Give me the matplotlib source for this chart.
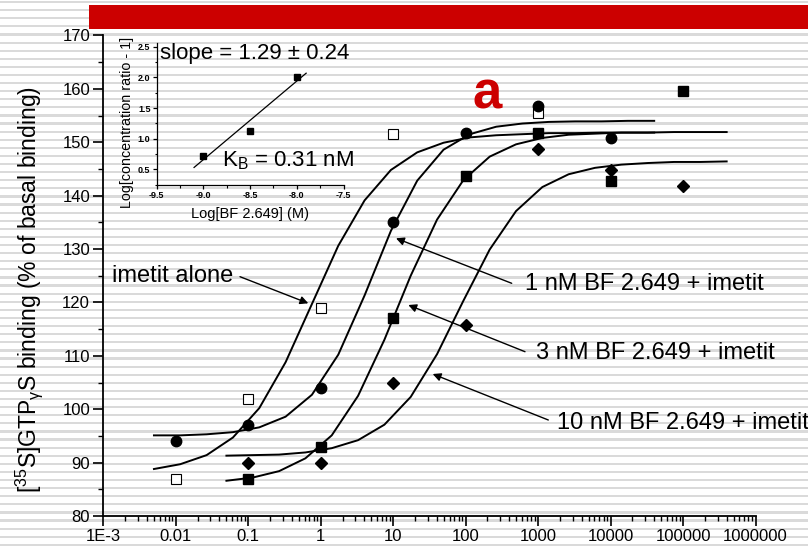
import matplotlib
matplotlib.use('Agg')
import matplotlib.pyplot as plt
from matplotlib.patches import Rectangle
from matplotlib.ticker import LogLocator, MultipleLocator, NullFormatter

plt.rcParams['font.family'] = ['Liberation Sans', 'DejaVu Sans']
plt.rcParams['mathtext.fontset'] = 'custom'
plt.rcParams['mathtext.rm'] = 'Liberation Sans'
plt.rcParams['mathtext.it'] = 'Liberation Sans:italic'
plt.rcParams['mathtext.bf'] = 'Liberation Sans:bold'

# measured points, agonist conc (nM) vs % of basal binding
imetit_x = [0.01, 0.1, 1, 10, 1000]
imetit_y = [87, 102, 119, 151.5, 155.5]
bf1_x = [0.01, 0.1, 1, 10, 100, 1000, 10000]
bf1_y = [94, 97, 104, 135, 151.7, 156.7, 150.8]
bf3_x = [0.1, 1, 10, 100, 1000, 10000, 100000]
bf3_y = [87, 93, 117, 143.6, 151.8, 142.7, 159.6]
bf10_x = [0.1, 1, 10, 100, 1000, 10000, 100000]
bf10_y = [90, 90, 105, 115.8, 148.7, 144.8, 141.8]

# fitted curves as drawn
fit_x_lo = [0.005, 0.01154, 0.02665, 0.06151, 0.142, 0.3278, 0.7566, 1.746, 4.03, 9.305,
            21.48, 49.58, 114.4, 264.1, 609.8, 1408, 3249, 7502, 17310, 40000]
fit_x_hi = [0.05, 0.1154, 0.2665, 0.6151, 1.42, 3.278, 7.566, 17.46, 40.3, 93.05,
            214.8, 495.8, 1144, 2641, 6098, 14080, 32490, 75020, 173100, 400000]
fit_imetit = [88.8, 89.7, 91.4, 94.7, 100.2, 108.8, 119.7, 130.6, 139.1, 144.8,
              148.1, 149.9, 150.9, 151.3, 151.5, 151.7, 151.7, 151.8, 151.8, 151.8]
fit_bf1 = [95.1, 95.1, 95.3, 95.7, 96.6, 98.6, 102.7, 110.2, 121.3, 133.4,
           142.8, 148.6, 151.5, 152.9, 153.5, 153.8, 153.9, 153.9, 154.0, 154.0]
fit_bf3 = [86.6, 87.2, 88.4, 90.8, 95.1, 102.5, 113.0, 125.0, 135.5, 142.9,
           147.3, 149.6, 150.8, 151.4, 151.6, 151.8, 151.8, 151.9, 151.9, 151.9]
fit_bf10 = [91.3, 91.4, 91.5, 91.9, 92.7, 94.2, 97.1, 102.3, 110.3, 120.3,
            129.9, 137.1, 141.6, 144.0, 145.2, 145.8, 146.1, 146.3, 146.3, 146.4]

xtick_labels = ['1E-3', '0.01', '0.1', '1', '10', '100', '1000', '10000', '100000', '1000000']

# Schild plot (inset)
schild_x = [-9.0, -8.5, -8.0]
schild_y = [0.72, 1.13, 2.01]
schild_fit_x = [-9.1, -7.9]
schild_fit_y = [0.53, 2.07]

W, H = 808, 547
fig = plt.figure(figsize=(W / 100, H / 100), dpi=100, facecolor='white')

# striped slide background + red title bar
bg = fig.add_axes([0, 0, 1, 1], zorder=0)
bg.set_xlim(0, W)
bg.set_ylim(H, 0)
bg.axis('off')
y = 1.0
while y < H:
    bg.axhspan(y, y + 2.2, color='#dadada', lw=0)
    y += 8.1
bg.add_patch(Rectangle((89, 5), W - 89, 24.3, color='#cc0000', lw=0))

# main plot
ax = fig.add_axes([103.3 / W, 1 - 516 / H, (755.5 - 103.3) / W, (516 - 35.4) / H], zorder=1)
ax.set_facecolor('none')
ax.set_xscale('log')
ax.set_xlim(1e-3, 1e6)
ax.set_ylim(80, 170)
for s in ['top', 'right']:
    ax.spines[s].set_visible(False)
for s in ['left', 'bottom']:
    ax.spines[s].set_linewidth(1.3)

lw = 1.4
ax.plot(fit_x_lo, fit_imetit, color='black', lw=lw, zorder=2)
ax.plot(fit_x_lo, fit_bf1, color='black', lw=lw, zorder=2)
ax.plot(fit_x_hi, fit_bf3, color='black', lw=lw, zorder=2)
ax.plot(fit_x_hi, fit_bf10, color='black', lw=lw, zorder=2)

ax.plot(imetit_x, imetit_y, 's', ms=6.5, mfc='white', mec='black', mew=0.8, ls='none', zorder=3)
ax.plot(bf1_x, bf1_y, 'o', ms=7.5, color='black', ls='none', zorder=3)
ax.plot(bf3_x, bf3_y, 's', ms=6.5, color='black', ls='none', zorder=3)
ax.plot(bf10_x, bf10_y, 'D', ms=6.5, color='black', ls='none', zorder=3)

ax.set_xticks([10.0 ** k for k in range(-3, 7)])
ax.set_xticklabels(xtick_labels)
ax.xaxis.set_minor_locator(LogLocator(base=10, subs=range(2, 10), numticks=100))
ax.xaxis.set_minor_formatter(NullFormatter())
ax.set_yticks(range(80, 171, 10))
ax.yaxis.set_minor_locator(MultipleLocator(5))
ax.tick_params(which='major', direction='out', length=7, width=1.2, labelsize=12, pad=2.5)
ax.tick_params(which='minor', direction='out', length=3.5, width=1.0)

fig.text(29 / W, 1 - 290 / H,
         r'[$^{\mathregular{35}}$S]GTP$_{\mathregular{\gamma}}$S binding (% of basal binding)',
         rotation=90, ha='center', va='center', fontsize=16.5)

# annotations (figure pixel positions, y from top)
def fp(x, y):
    return (x, H - y)

arrow = dict(arrowstyle='-|>', color='black', lw=1.0, mutation_scale=12, shrinkA=0, shrinkB=0)
arrows = [((240, 276.7), (308.3, 303.3)),
          ((511.7, 283.3), (396, 238.3)),
          ((525, 351.7), (408.3, 305)),
          ((548.3, 420), (432.7, 374))]
for tail, tip in arrows:
    ax.annotate('', xy=fp(*tip), xycoords='figure pixels',
                xytext=fp(*tail), textcoords='figure pixels', arrowprops=arrow)

lab_fs = 17
fig.text(233 / W, 1 - 281.7 / H, 'imetit alone', ha='right', va='baseline', fontsize=lab_fs)
fig.text(525 / W, 1 - 289.5 / H, '1 nM BF 2.649 + imetit', ha='left', va='baseline', fontsize=lab_fs)
fig.text(535.7 / W, 1 - 359.3 / H, '3 nM BF 2.649 + imetit', ha='left', va='baseline', fontsize=lab_fs)
fig.text(556.7 / W, 1 - 429 / H, '10 nM BF 2.649 + imetit', ha='left', va='baseline', fontsize=lab_fs)

fig.text(486.7 / W, 1 - 108.3 / H, 'a', ha='center', va='baseline', fontsize=38,
         fontweight='bold', color='#cc0000')

# inset: Schild regression
ins = fig.add_axes([156.7 / W, 1 - 184.6 / H, (343.5 - 156.7) / W, (184.6 - 43.2) / H], zorder=2)
ins.set_facecolor('none')
ins.set_xlim(-9.5, -7.5)
ins.set_ylim(0.25, 2.56)
for s in ['top', 'right']:
    ins.spines[s].set_visible(False)
for s in ['left', 'bottom']:
    ins.spines[s].set_linewidth(0.9)
ins.plot(schild_fit_x, schild_fit_y, color='black', lw=0.9)
ins.plot(schild_x, schild_y, 's', ms=3.8, color='black', ls='none')
ins.set_xticks([-9.5, -9.0, -8.5, -8.0, -7.5])
ins.set_xticklabels(['-9.5', '-9.0', '-8.5', '-8.0', '-7.5'])
ins.set_yticks([0.5, 1.0, 1.5, 2.0, 2.5])
ins.set_yticklabels(['0.5', '1.0', '1.5', '2.0', '2.5'])
ins.xaxis.set_minor_locator(MultipleLocator(0.25))
ins.yaxis.set_minor_locator(MultipleLocator(0.25))
ins.tick_params(which='major', direction='out', length=3, width=0.9, labelsize=6.5, pad=1.5)
ins.tick_params(which='minor', direction='out', length=1.8, width=0.8)
for t in ins.get_xticklabels() + ins.get_yticklabels():
    t.set_fontweight('bold')

fig.text(250 / W, 1 - 214 / H, 'Log[BF 2.649] (M)', ha='center', va='center', fontsize=10.5)
fig.text(127 / W, 1 - 122 / H, 'Log[concentration ratio - 1]', rotation=90,
         ha='center', va='center', fontsize=10.3)
fig.text(160 / W, 1 - 59.3 / H, 'slope = 1.29 \u00b1 0.24', ha='left', va='baseline', fontsize=16)
fig.text(222 / W, 1 - 166.7 / H, r'K$_{\mathregular{B}}$ = 0.31 nM', ha='left', va='baseline', fontsize=16)

fig.savefig('out.png', dpi=100, facecolor='white')
